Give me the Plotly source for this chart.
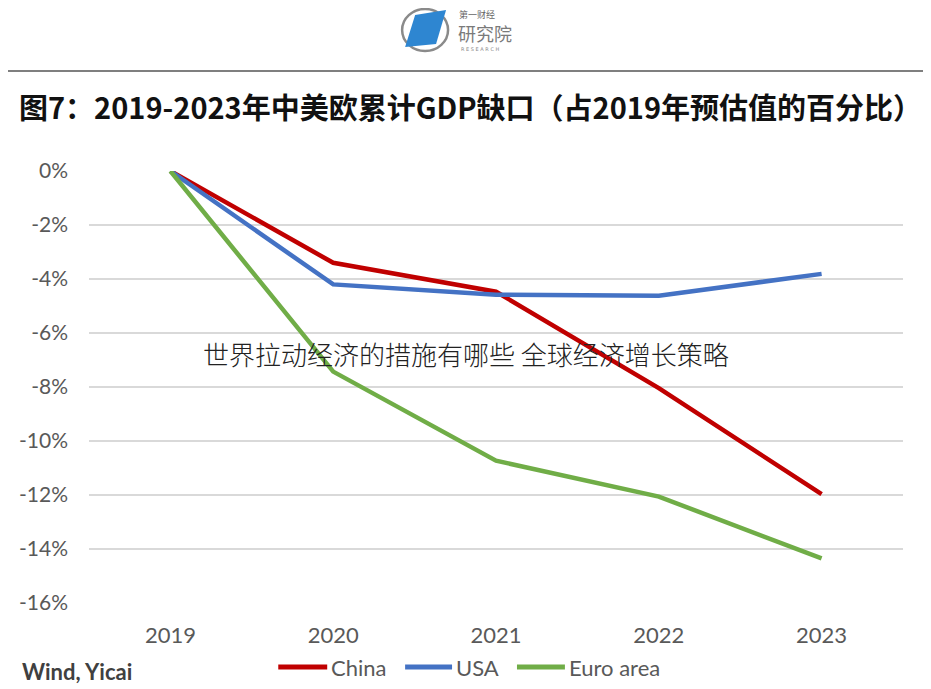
import plotly.graph_objects as go

years = ["2019", "2020", "2021", "2022", "2023"]
china = [0.0, -3.4, -4.47, -8.04, -11.97]
usa = [0.0, -4.2, -4.58, -4.62, -3.81]
euro = [0.0, -7.43, -10.73, -12.06, -14.35]
series_names = ["China", "USA", "Euro area"]
series_colors = ["#C00000", "#4472C4", "#70AD47"]
y_ticks = [0, -2, -4, -6, -8, -10, -12, -14, -16]
y_tick_labels = ["0%", "-2%", "-4%", "-6%", "-8%", "-10%", "-12%", "-14%", "-16%"]

title_text = "图7：2019-2023年中美欧累计GDP缺口（占2019年预估值的百分比）"
watermark = "世界拉动经济的措施有哪些 全球经济增长策略"
source_text = "Wind, Yicai"

# page offset (default body margin) and figure size
OFF = 8
W, H = 931 - OFF, 689 - OFF
# plot area in page pixels
PX0, PX1, PY0, PY1 = 88.5, 903.5, 171, 603
L, R, T, B = PX0 - OFF, W - (PX1 - OFF), PY0 - OFF, H - (PY1 - OFF)


def px(x):
    return (x - PX0) / (PX1 - PX0)


def py(y):
    return (PY1 - y) / (PY1 - PY0)


fig = go.Figure()
for name, vals, col in zip(series_names, [china, usa, euro], series_colors):
    fig.add_trace(go.Scatter(x=years, y=vals, mode="lines", name=name,
                             line=dict(color=col, width=4.5), showlegend=False))

shapes = [
    dict(type="line", xref="paper", yref="paper", x0=px(5), x1=px(926), y0=py(71), y1=py(71),
         line=dict(color="#555555", width=1.5)),
    dict(type="circle", xref="paper", yref="paper", x0=px(402), x1=px(448), y0=py(9), y1=py(51),
         line=dict(color="#8a8a8a", width=2.5)),
    dict(type="path", xref="paper", yref="paper",
         path=f"M {px(415)} {py(15)} L {px(446)} {py(10)} L {px(436)} {py(44)} L {px(405)} {py(47)} Z",
         fillcolor="#2E86D1", line=dict(width=0)),
]

annotations = [
    dict(text=title_text, xref="paper", yref="paper", x=px(16), y=py(106), xanchor="left", yanchor="middle",
         showarrow=False, font=dict(family="Noto Sans CJK SC", size=29, color="#111111", weight="bold")),
    dict(text="第一财经", xref="paper", yref="paper", x=px(458), y=py(15), xanchor="left", yanchor="middle",
         showarrow=False, borderpad=0, font=dict(family="Noto Sans CJK SC", size=9, color="#666666")),
    dict(text="研究院", xref="paper", yref="paper", x=px(457), y=py(33), xanchor="left", yanchor="middle",
         showarrow=False, borderpad=0, font=dict(family="Noto Sans CJK SC", size=18, color="#7a7a7a")),
    dict(text="R E S E A R C H", xref="paper", yref="paper", x=px(460), y=py(49), xanchor="left", yanchor="middle",
         showarrow=False, borderpad=0, font=dict(family="DejaVu Sans", size=5, color="#888888")),
    dict(text=watermark, xref="paper", yref="paper", x=px(466), y=py(353), xanchor="center", yanchor="middle",
         showarrow=False, font=dict(family="Noto Sans CJK SC", size=26, color="#222222", weight=300)),
    dict(text=source_text, xref="paper", yref="paper", x=px(19), y=py(671), xanchor="left", yanchor="middle",
         showarrow=False, font=dict(family="Lato", size=22, color="#404040", weight="bold")),
]

# manual legend (line samples + labels)
legend_x = [(278, 327), (405, 452), (517, 565)]
for (x0, x1), name, col in zip(legend_x, series_names, series_colors):
    shapes.append(dict(type="line", xref="paper", yref="paper", x0=px(x0), x1=px(x1), y0=py(667), y1=py(667),
                       line=dict(color=col, width=5)))
    annotations.append(dict(text=name, xref="paper", yref="paper", x=px(x1 + 2), y=py(667), xanchor="left",
                            yanchor="middle", showarrow=False,
                            font=dict(family="Lato", size=22, color="#595959")))

fig.update_layout(
    width=W, height=H,
    margin=dict(l=L, r=R, t=T, b=B, autoexpand=False),
    paper_bgcolor="white", plot_bgcolor="white",
    font=dict(family="Lato", color="#595959", size=21),
    showlegend=False,
    xaxis=dict(type="category", range=[-0.5, 4.5], showgrid=False, showline=False, zeroline=False,
               ticks="", ticklabelstandoff=17, automargin=False, tickfont=dict(size=22, color="#595959")),
    yaxis=dict(range=[-16, 0], tickvals=y_ticks, ticktext=y_tick_labels, showgrid=True,
               gridcolor="#D9D9D9", gridwidth=1.5, zeroline=False, showline=False, ticks="",
               ticklabelstandoff=20, automargin=False, tickfont=dict(size=21, color="#595959")),
    shapes=shapes,
    annotations=annotations,
)

fig.write_html("out.html")
